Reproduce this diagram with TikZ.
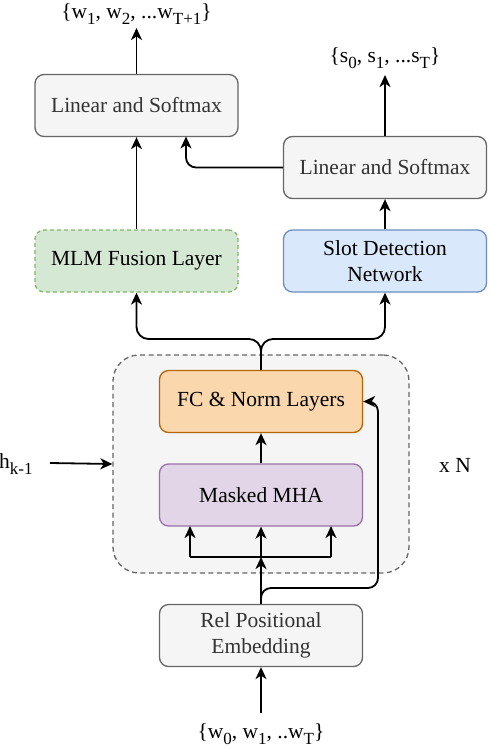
\documentclass[tikz,border=0pt]{standalone}
\usepackage{fontspec}
\setmainfont{Liberation Serif}
\usetikzlibrary{arrows.meta}
\definecolor{grayfill}{HTML}{F5F5F5}
\definecolor{graydraw}{HTML}{666666}
\definecolor{graytext}{HTML}{333333}
\definecolor{greenfill}{HTML}{D5E8D4}
\definecolor{greendraw}{HTML}{82B366}
\definecolor{bluefill}{HTML}{DAE8FC}
\definecolor{bluedraw}{HTML}{6C8EBF}
\definecolor{orangefill}{HTML}{FAD7AC}
\definecolor{orangedraw}{HTML}{B46504}
\definecolor{purplefill}{HTML}{E1D5E7}
\definecolor{purpledraw}{HTML}{9673A6}
\newcommand{\sbs}[1]{\raisebox{-0.25em}{\fontsize{17}{17}\selectfont #1}}
\tikzset{
  box/.style={rectangle, rounded corners=9pt, minimum width=203pt, minimum height=62pt,
    line width=1.3pt, align=center, font=\fontsize{21.5}{26}\selectfont, inner sep=0pt},
  graybox/.style={box, fill=grayfill, draw=graydraw, text=graytext},
  greenbox/.style={box, fill=greenfill, draw=greendraw, dash pattern=on 4pt off 3pt},
  bluebox/.style={box, fill=bluefill, draw=bluedraw},
  orangebox/.style={box, fill=orangefill, draw=orangedraw},
  purplebox/.style={box, fill=purplefill, draw=purpledraw},
  lbl/.style={font=\fontsize{21.5}{26}\selectfont, inner sep=0pt},
  conn/.style={line width=1.8pt, -{Stealth[length=12pt, width=11pt, inset=3.5pt]}},
  plain/.style={line width=1.8pt},
}
\begin{document}
\begin{tikzpicture}[x=1pt, y=-1pt]
\useasboundingbox (0,0) rectangle (488,748);
% container
\node[draw=graydraw, fill=grayfill, line width=1.3pt, dash pattern=on 5pt off 3.5pt,
  rounded corners=26pt, minimum width=296pt, minimum height=218pt, inner sep=0pt] (cont) at (261,464) {};
% boxes
\node[graybox] (linL) at (136.5,105.5) {Linear and Softmax};
\node[graybox] (linR) at (385,167.5) {Linear and Softmax};
\node[greenbox] (mlm) at (136.5,261) {MLM Fusion Layer};
\node[bluebox] (slot) at (385,261) {Slot Detection\\Network};
\node[orangebox] (fc) at (261,401.5) {FC \& Norm Layers};
\node[purplebox] (mha) at (261,495) {Masked MHA};
\node[graybox] (rel) at (261,635.5) {Rel Positional\\Embedding};
% labels
\node[lbl] (outW) at (136.5,14) {\{w\sbs{1}, w\sbs{2}, ...w\sbs{T+1}\}};
\node[lbl] (outS) at (385,58) {\{s\sbs{0}, s\sbs{1}, ...s\sbs{T}\}};
\node[lbl] (inW) at (261,734) {\{w\sbs{0}, w\sbs{1}, ..w\sbs{T}\}};
\node[lbl, anchor=west] (hk) at (-1,464) {h\sbs{k-1}};
\node[lbl] (xn) at (455,465) {x N};
% coordinates
\coordinate (tW) at (136.5,28);
\coordinate (tS) at (385,75);
\coordinate (split) at (261,557);
\coordinate (hs) at (50,463);
\coordinate (inS) at (261,713);
% connectors
\draw[conn] (linL.north) -- (tW);
\draw[conn] (linR.north) -- (tS);
\draw[conn, rounded corners=10pt] (linR.west) -- (186,167.5) -- (186,136.5);
\draw[conn] (mlm.north) -- (linL.south);
\draw[conn] (slot.north) -- (linR.south);
\draw[conn, rounded corners=12pt] (fc.north) -- (261,339) -- (136.5,339) -- (mlm.south);
\draw[conn, rounded corners=12pt] (fc.north) -- (261,339) -- (385,339) -- (slot.south);
\draw[conn] (mha.north) -- (fc.south);
\draw[plain] (190,557) -- (331,557);
\draw[conn] (190,557) -- (190,526);
\draw[conn] (split) -- (mha.south);
\draw[conn] (331,557) -- (331,526);
\draw[conn] (rel.north) -- (split);
\draw[conn, rounded corners=10pt] (rel.north) -- (261,588) -- (378,588) -- (378,401.5) -- (fc.east);
\draw[conn] (hs) -- (cont.west);
\draw[conn] (inS) -- (rel.south);
\end{tikzpicture}
\end{document}
